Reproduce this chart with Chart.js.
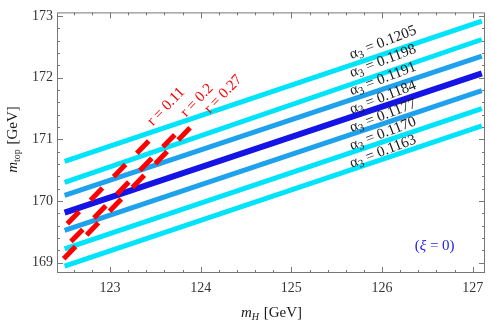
<!DOCTYPE html>
<html>
<head>
<meta charset="utf-8">
<script src="https://cdn.jsdelivr.net/npm/chart.js@4"></script>
<style>
  html, body { margin: 0; padding: 0; background: #fff; }
  #wrap { width: 491px; height: 321px; }
</style>
</head>
<body>
<div id="wrap"><canvas id="chart"></canvas></div>
<script>
// data
const mH = [122.5, 127.1];
const alphaValues = ['0.1205', '0.1198', '0.1191', '0.1184', '0.1177', '0.1170', '0.1163'];
const mtAtLeft = [170.64, 170.30, 170.09, 169.81, 169.52, 169.22, 168.94];
const mtAtRight = [172.92, 172.62, 172.35, 172.07, 171.79, 171.50, 171.22];
const rValues = ['0.11', '0.2', '0.27'];
const rStartMH = [122.53, 122.57, 122.49];
const rEndMH = [123.50, 123.81, 123.99];
const rStartMt = [169.63, 169.34, 169.06];
const rEndMt = [171.08, 171.22, 171.35];
const xTicks = [123, 124, 125, 126, 127];
const yTicks = [169, 170, 171, 172, 173];

const CYAN = '#00e4fb';
const AZURE = '#1ea2ee';
const BLUE = '#1414e6';
const lineColors = [CYAN, CYAN, AZURE, BLUE, AZURE, CYAN, CYAN];
const serif = '"Liberation Serif", "DejaVu Serif", serif';

const datasets = [];
rValues.forEach((r, i) => {
  datasets.push({
    label: 'r = ' + r,
    data: [{ x: rStartMH[i], y: rStartMt[i] }, { x: rEndMH[i], y: rEndMt[i] }],
    borderColor: '#ff0000',
    borderWidth: 5,
    borderDash: [17, 16],
    borderCapStyle: 'butt',
    order: 0
  });
});
alphaValues.forEach((a, i) => {
  datasets.push({
    label: 'alpha3 = ' + a,
    data: [{ x: mH[0], y: mtAtLeft[i] }, { x: mH[1], y: mtAtRight[i] }],
    borderColor: lineColors[i],
    borderWidth: lineColors[i] === BLUE ? 6 : 5,
    order: 1
  });
});

// frame, inward ticks, annotations and axis titles
const decorations = {
  id: 'decorations',
  afterDraw(chart) {
    const { ctx, chartArea: a, scales: { x, y } } = chart;
    ctx.save();
    ctx.strokeStyle = '#777';
    ctx.lineWidth = 1;
    ctx.strokeRect(a.left + 0.5, a.top + 0.5, a.right - a.left - 1, a.bottom - a.top - 1);

    ctx.beginPath();
    for (let v = 122.4; v <= 127.2; v += 0.2) {
      const val = Math.round(v * 10) / 10;
      const px = Math.round(x.getPixelForValue(val)) + 0.5;
      if (px < a.left + 1 || px > a.right - 1) continue;
      const len = Number.isInteger(val) ? 6 : 3;
      ctx.moveTo(px, a.bottom); ctx.lineTo(px, a.bottom - len);
      ctx.moveTo(px, a.top); ctx.lineTo(px, a.top + len);
    }
    for (let v = 168.8; v <= 173.1; v += 0.2) {
      const val = Math.round(v * 10) / 10;
      const py = Math.round(y.getPixelForValue(val)) + 0.5;
      if (py < a.top + 1 || py > a.bottom - 1) continue;
      const len = Number.isInteger(val) ? 6 : 3;
      ctx.moveTo(a.left, py); ctx.lineTo(a.left + len, py);
      ctx.moveTo(a.right, py); ctx.lineTo(a.right - len, py);
    }
    ctx.stroke();

    // alpha_3 labels
    const alphaLabelY = [172.57, 172.27, 171.98, 171.68, 171.38, 171.09, 170.80];
    alphaValues.forEach((a3, i) => {
      ctx.save();
      ctx.translate(x.getPixelForValue(126.01), y.getPixelForValue(alphaLabelY[i]));
      ctx.rotate(-21 * Math.PI / 180);
      ctx.fillStyle = '#1a1a1a';
      ctx.textBaseline = 'middle';
      ctx.font = '15px ' + serif;
      const w1 = ctx.measureText('\u03b1').width;
      ctx.font = '11px ' + serif;
      const w2 = ctx.measureText('3').width;
      ctx.font = '15px ' + serif;
      const rest = ' = ' + a3;
      const w3 = ctx.measureText(rest).width;
      let px = -(w1 + w2 + w3) / 2;
      ctx.fillText('\u03b1', px, 0);
      px += w1;
      ctx.font = '11px ' + serif;
      ctx.fillText('3', px, 4);
      px += w2;
      ctx.font = '15px ' + serif;
      ctx.fillText(rest, px, 0);
      ctx.restore();
    });

    // r labels
    const rLabelMH = [123.62, 123.96, 124.25];
    const rLabelMt = [171.53, 171.63, 171.73];
    rValues.forEach((r, i) => {
      ctx.save();
      ctx.translate(x.getPixelForValue(rLabelMH[i]), y.getPixelForValue(rLabelMt[i]));
      ctx.rotate(-46 * Math.PI / 180);
      ctx.fillStyle = '#ff0000';
      ctx.font = '15px ' + serif;
      ctx.textAlign = 'center';
      ctx.textBaseline = 'middle';
      ctx.fillText('r = ' + r, 0, 0);
      ctx.restore();
    });

    // (xi = 0)
    ctx.fillStyle = '#2323e6';
    ctx.textBaseline = 'middle';
    const parts = [['(', 'normal'], ['\u03be', 'italic'], [' = 0)', 'normal']];
    let total = 0;
    parts.forEach(p => { ctx.font = p[1] + ' 15px ' + serif; total += ctx.measureText(p[0]).width; });
    let cx = x.getPixelForValue(126.58) - total / 2;
    const cy = y.getPixelForValue(169.27);
    parts.forEach(p => {
      ctx.font = p[1] + ' 15px ' + serif;
      ctx.fillText(p[0], cx, cy);
      cx += ctx.measureText(p[0]).width;
    });

    // axis titles
    function drawTitle(sub, px, py, rot) {
      ctx.save();
      ctx.translate(px, py);
      ctx.rotate(rot);
      ctx.fillStyle = '#1a1a1a';
      ctx.textBaseline = 'alphabetic';
      ctx.font = 'italic 15px ' + serif;
      const wm = ctx.measureText('m').width;
      ctx.font = (sub === 'H' ? 'italic ' : '') + '10px ' + serif;
      const ws = ctx.measureText(sub).width;
      ctx.font = '15px ' + serif;
      const wr = ctx.measureText(' [GeV]').width;
      let tx = -(wm + ws + wr) / 2;
      ctx.font = 'italic 15px ' + serif;
      ctx.fillText('m', tx, 5);
      tx += wm;
      ctx.font = (sub === 'H' ? 'italic ' : '') + '10px ' + serif;
      ctx.fillText(sub, tx, 8);
      tx += ws + 1;
      ctx.font = '15px ' + serif;
      ctx.fillText(' [GeV]', tx, 5);
      ctx.restore();
    }
    drawTitle('H', (a.left + a.right) / 2, 312, 0);
    drawTitle('top', 12, 140, -Math.PI / 2);
    ctx.restore();
  }
};

new Chart(document.getElementById('chart'), {
  type: 'scatter',
  data: { datasets },
  options: {
    responsive: true,
    maintainAspectRatio: false,
    animation: false,
    showLine: true,
    elements: { point: { radius: 0, hoverRadius: 0 }, line: { tension: 0 } },
    layout: { padding: { top: 5, right: 6, left: 0, bottom: 0 } },
    plugins: { legend: { display: false }, tooltip: { enabled: false } },
    scales: {
      x: {
        type: 'linear',
        min: 122.416,
        max: 127.135,
        afterBuildTicks: (s) => { s.ticks = xTicks.map(v => ({ value: v })); },
        afterFit: (s) => { s.height = 48; },
        grid: { display: false, drawTicks: false },
        border: { display: false },
        ticks: { padding: 7, color: '#333', font: { family: serif, size: 14 }, maxRotation: 0 }
      },
      y: {
        type: 'linear',
        min: 168.83,
        max: 173.06,
        afterBuildTicks: (s) => { s.ticks = yTicks.map(v => ({ value: v })); },
        afterFit: (s) => { s.width = 57; },
        grid: { display: false, drawTicks: false },
        border: { display: false },
        ticks: { padding: 4, color: '#333', font: { family: serif, size: 14 } }
      }
    }
  },
  plugins: [decorations]
});
</script>
</body>
</html>
